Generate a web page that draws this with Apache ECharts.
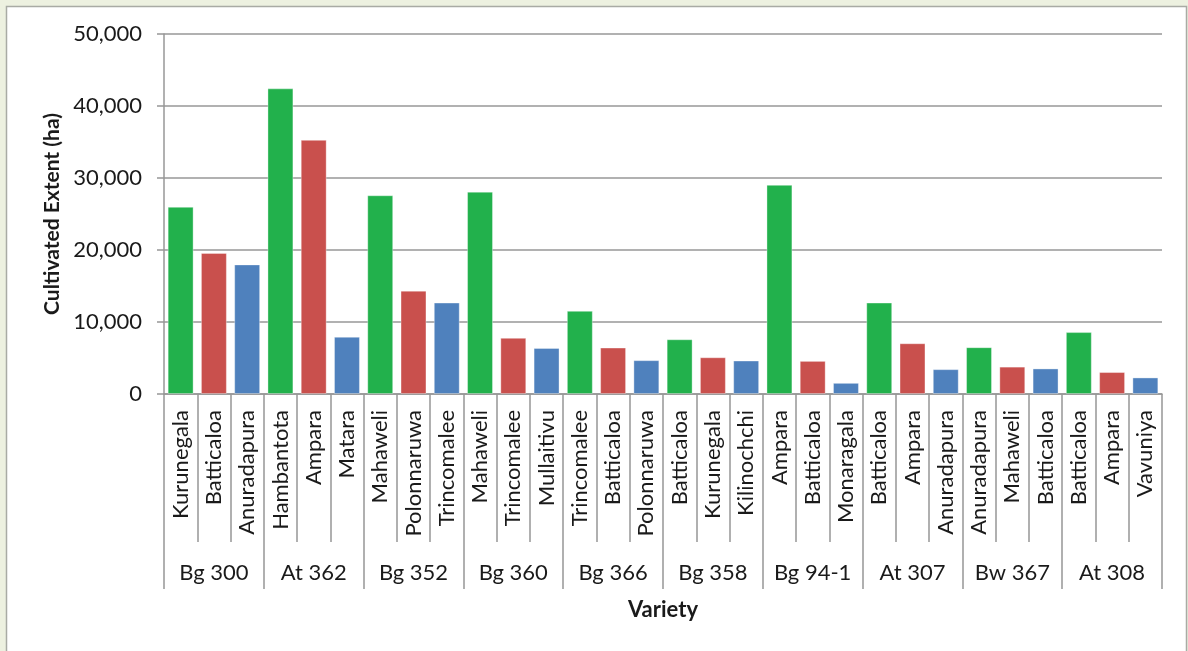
<!DOCTYPE html>
<html>
<head>
<meta charset="utf-8">
<title>Cultivated Extent by Variety and District</title>
<script src="https://cdn.jsdelivr.net/npm/echarts@6/dist/echarts.min.js"></script>
<style>
  html, body { margin: 0; padding: 0; background: #edf1e0; }
  #chart { width: 1188px; height: 651px; }
</style>
</head>
<body>
<div id="chart"></div>
<script>
// Rice varieties (outer axis level), three districts each
const varieties = ['Bg 300', 'At 362', 'Bg 352', 'Bg 360', 'Bg 366', 'Bg 358', 'Bg 94-1', 'At 307', 'Bw 367', 'At 308'];

// Districts (inner axis level), in the same order as the bars
const districts = [
  'Kurunegala', 'Batticaloa', 'Anuradapura',
  'Hambantota', 'Ampara', 'Matara',
  'Mahaweli', 'Polonnaruwa', 'Trincomalee',
  'Mahaweli', 'Trincomalee', 'Mullaitivu',
  'Trincomalee', 'Batticaloa', 'Polonnaruwa',
  'Batticaloa', 'Kurunegala', 'Kilinochchi',
  'Ampara', 'Batticaloa', 'Monaragala',
  'Batticaloa', 'Ampara', 'Anuradapura',
  'Anuradapura', 'Mahaweli', 'Batticaloa',
  'Batticaloa', 'Ampara', 'Vavuniya'
];

// Cultivated extent (ha) per variety/district
const extentHa = [
  26000, 19600, 18000,
  42450, 35300, 7950,
  27600, 14350, 12700,
  28100, 7800, 6400,
  11550, 6450, 4700,
  7600, 5100, 4650,
  29050, 4600, 1550,
  12700, 7050, 3450,
  6500, 3800, 3550,
  8600, 3050, 2300
];

// Y axis ticks
const yTicks = { min: 0, max: 50000, step: 10000 };

// Colour by rank within each variety: 1st, 2nd, 3rd district
const rankColors = ['#22b14c', '#c9504d', '#4f81bd'];

const FONT = 'Lato, "Open Sans", sans-serif';
const TEXT = '#1a1a1a';
const LINE = '#979797';

const chart = echarts.init(document.getElementById('chart'), null, { renderer: 'canvas' });

chart.setOption({
  backgroundColor: '#edf1e0',
  animation: false,
  graphic: [{
    type: 'rect',
    z: -10,
    silent: true,
    shape: { x: 6.5, y: 6.5, width: 1180, height: 700 },
    style: { fill: '#ffffff', stroke: '#a9aba4', lineWidth: 1.5 }
  }],
  grid: { left: 164, right: 26, top: 34, bottom: 257 },
  xAxis: [
    {
      type: 'category',
      position: 'bottom',
      data: districts,
      axisLine: { show: true, lineStyle: { color: LINE, width: 1.5 } },
      axisTick: { show: true, interval: 0, length: 148, lineStyle: { color: LINE, width: 1.5 } },
      axisLabel: {
        interval: 0, rotate: 90, margin: 16,
        fontFamily: FONT, fontSize: 22, color: TEXT
      },
      splitLine: { show: false }
    },
    {
      type: 'category',
      position: 'bottom',
      data: varieties,
      axisLine: { show: false },
      axisTick: { show: true, interval: 0, length: 195, lineStyle: { color: LINE, width: 1.5 } },
      axisLabel: {
        interval: 0, margin: 168,
        fontFamily: FONT, fontSize: 22, color: TEXT
      },
      name: 'Variety',
      nameLocation: 'middle',
      nameGap: 205,
      nameTextStyle: { fontFamily: FONT, fontSize: 22, fontWeight: 'bold', color: TEXT },
      splitLine: { show: false }
    }
  ],
  yAxis: {
    type: 'value',
    min: yTicks.min,
    max: yTicks.max,
    interval: yTicks.step,
    name: 'Cultivated Extent (ha)',
    nameLocation: 'middle',
    nameGap: 100,
    nameTextStyle: { fontFamily: FONT, fontSize: 21, fontWeight: 'bold', color: TEXT },
    axisLine: { show: true, lineStyle: { color: LINE, width: 1.5 } },
    axisTick: { show: true, length: 7, lineStyle: { color: LINE, width: 1.5 } },
    axisLabel: {
      margin: 22,
      fontFamily: FONT, fontSize: 22, color: TEXT,
      formatter: v => v.toLocaleString('en-US')
    },
    splitLine: { show: true, lineStyle: { color: LINE, width: 1.5 } }
  },
  series: [{
    type: 'bar',
    xAxisIndex: 0,
    data: extentHa,
    barCategoryGap: '22%',
    itemStyle: {
      color: p => rankColors[p.dataIndex % 3],
      borderColor: 'rgba(255,255,255,0.35)',
      borderWidth: 1
    }
  }]
});
</script>
</body>
</html>
